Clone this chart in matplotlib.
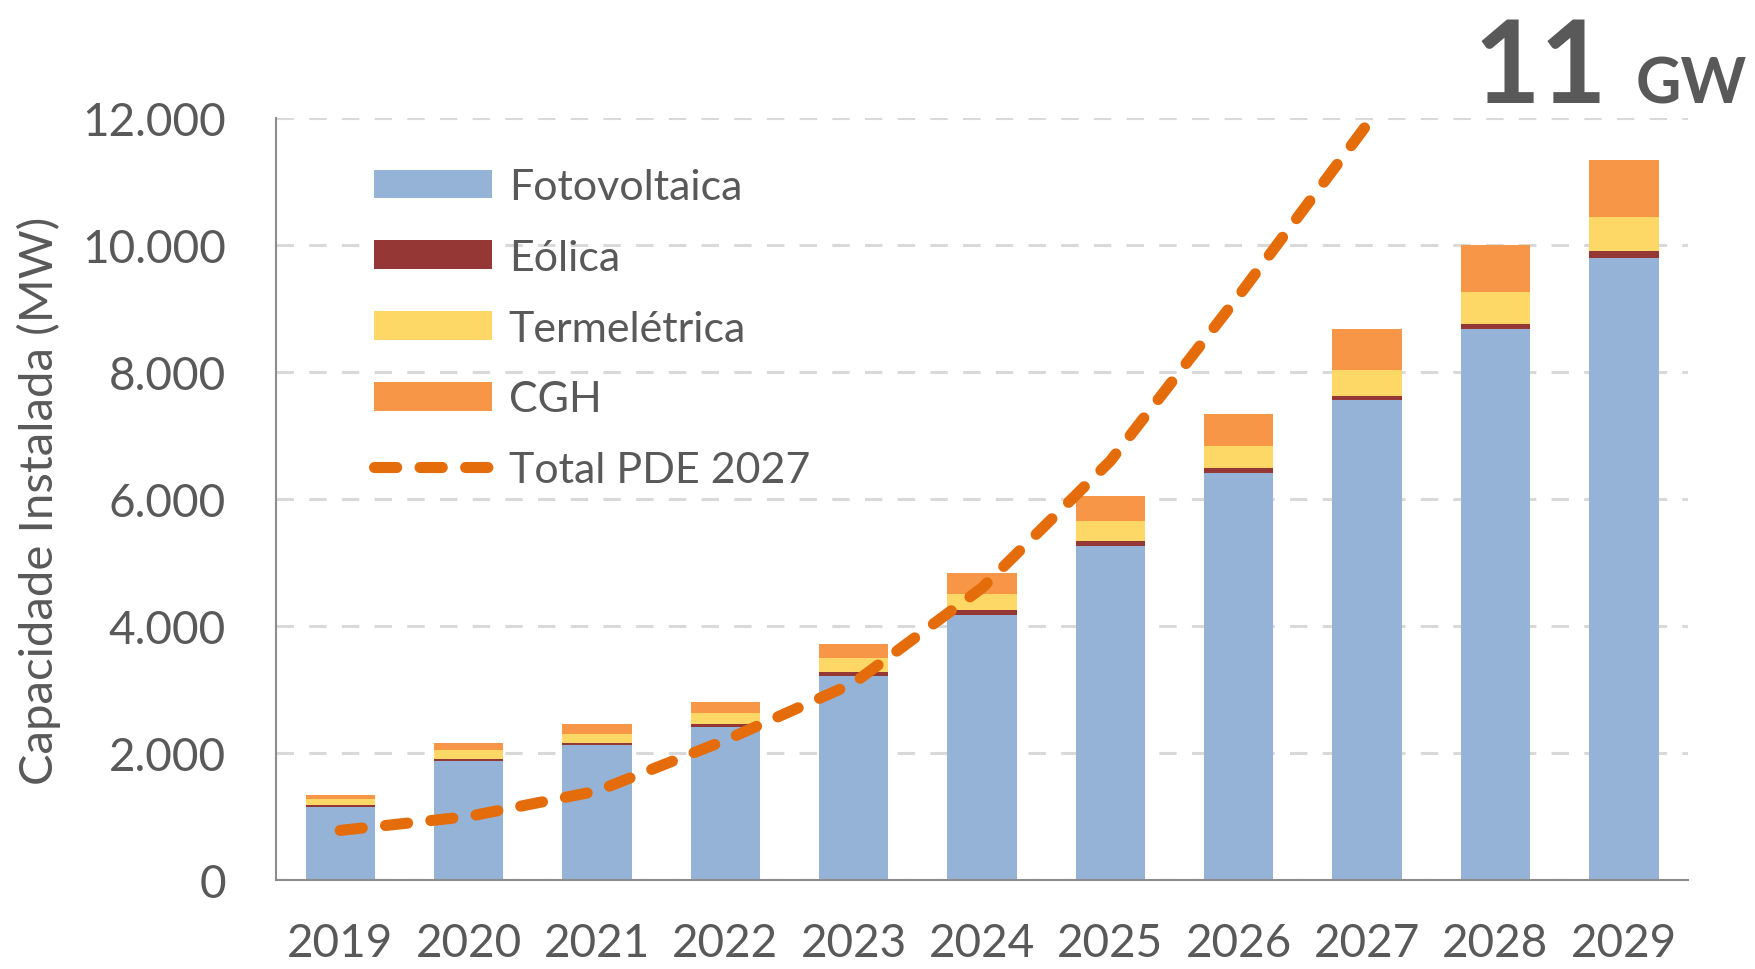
import numpy as np
import matplotlib.pyplot as plt
from matplotlib.ticker import FuncFormatter

# valores (MW)
anos = ['2019', '2020', '2021', '2022', '2023', '2024', '2025', '2026', '2027', '2028', '2029']
fotovoltaica = [1150, 1875, 2126, 2410, 3206, 4177, 5259, 6408, 7562, 8679, 9792]
eolica = [35, 36, 37, 41, 70, 74, 72, 78, 67, 74, 110]
termeletrica = [85, 141, 141, 179, 220, 252, 321, 356, 405, 504, 535]
cgh = [65, 111, 147, 178, 214, 325, 398, 504, 645, 749, 907]
anos_pde = ['2019', '2020', '2021', '2022', '2023', '2024', '2025', '2026', '2027']
total_pde = [780, 1000, 1400, 2200, 3100, 4600, 6600, 9200, 11900]

cor_texto = '#595959'
plt.rcParams['font.family'] = ['Lato', 'DejaVu Sans']

fig = plt.figure(figsize=(17.56, 9.70), dpi=100)
ax = fig.add_axes([0.1572, 0.0918, 0.8041, 0.7855])

x = np.arange(len(anos))
w = 0.54
base = np.zeros(len(anos))
series = [(fotovoltaica, '#95B3D7', 'Fotovoltaica'),
          (eolica, '#953735', 'Eólica'),
          (termeletrica, '#FDD866', 'Termelétrica'),
          (cgh, '#F79646', 'CGH')]
for vals, cor, nome in series:
    ax.bar(x, vals, w, bottom=base, color=cor, label=nome, zorder=2)
    base += np.array(vals)

xp = [anos.index(a) for a in anos_pde]
ax.plot(xp, total_pde, color='#E46C0A', lw=8, ls=(0, (2.0, 2.1)),
        dash_capstyle='round', label='Total PDE 2027', zorder=3, clip_on=False)

ax.set_xlim(-0.5, 10.5)
ax.set_ylim(0, 12000)
ax.set_yticks(range(0, 12001, 2000))
ax.yaxis.set_major_formatter(FuncFormatter(lambda v, p: f'{int(v):,}'.replace(',', '.')))
ax.set_xticks(x)
ax.set_xticklabels(anos)
ax.tick_params(axis='both', length=0, labelsize=33, labelcolor=cor_texto)
ax.tick_params(axis='y', pad=36)
ax.tick_params(axis='x', pad=30)
ax.grid(axis='y', color='#D9D9D9', lw=2.2, ls=(0, (5.7, 5)), zorder=0)
for s in ['top', 'right']:
    ax.spines[s].set_visible(False)
for s in ['left', 'bottom']:
    ax.spines[s].set_color('#8C8C8C')
    ax.spines[s].set_linewidth(1.5)

handles, labels = ax.get_legend_handles_labels()
ordem = [1, 2, 3, 4, 0]
leg = ax.legend([handles[i] for i in ordem], [labels[i] for i in ordem],
                loc='upper left', bbox_to_anchor=(0.042, 0.985), frameon=False,
                fontsize=31, labelcolor=cor_texto, handlelength=2.75,
                handleheight=0.65, handletextpad=0.38, labelspacing=0.76)

fig.text(39 / 1756, 0.4835, 'Capacidade Instalada (MW)', rotation=90, ha='center',
         va='center', fontsize=34, color=cor_texto)
fig.text(1607 / 1756, 1 - 103 / 970, '11', ha='right', va='baseline',
         fontsize=83, fontweight='bold', color=cor_texto)
fig.text(1747 / 1756, 1 - 103 / 970, 'GW', ha='right', va='baseline',
         fontsize=45, fontweight='bold', color=cor_texto)

fig.savefig('out.png', dpi=100)
